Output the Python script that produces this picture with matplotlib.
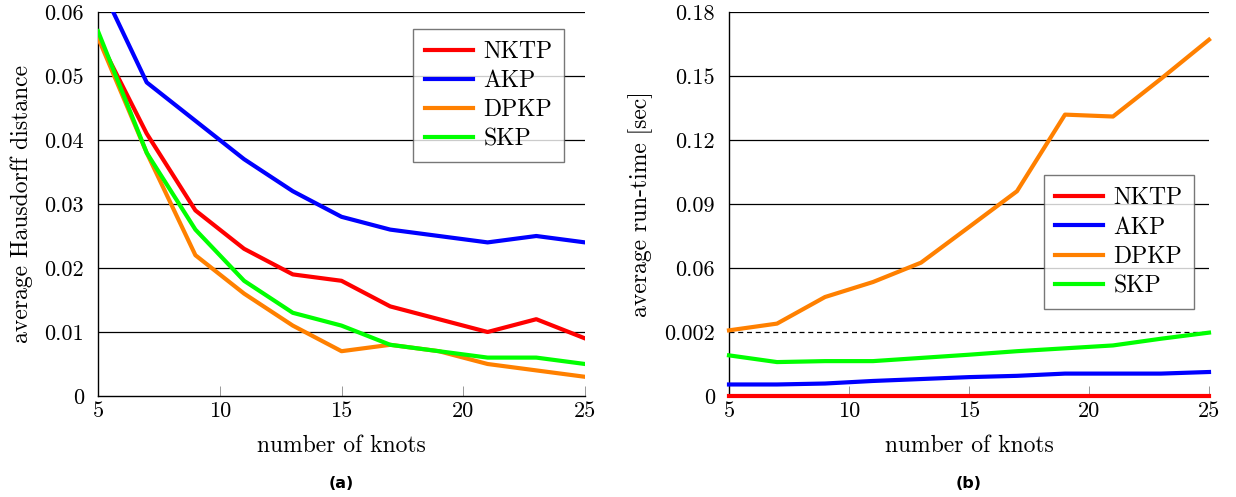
import numpy as np
import matplotlib
matplotlib.use("Agg")
import matplotlib.pyplot as plt

plt.rcParams['font.family'] = ['cmr10', 'DejaVu Serif']
plt.rcParams['mathtext.fontset'] = 'cm'
plt.rcParams['axes.unicode_minus'] = False

# 数据
knots = [5, 7, 9, 11, 13, 15, 17, 19, 21, 23, 25]
names = ["NKTP", "AKP", "DPKP", "SKP"]
colors = ["#ff0000", "#0000ff", "#ff8000", "#00ff00"]

# (a) 平均 Hausdorff 距离
hd_nktp = [0.056, 0.041, 0.029, 0.023, 0.019, 0.018, 0.014, 0.012, 0.010, 0.012, 0.009]
hd_akp = [0.065, 0.049, 0.043, 0.037, 0.032, 0.028, 0.026, 0.025, 0.024, 0.025, 0.024]
hd_dpkp = [0.056, 0.038, 0.022, 0.016, 0.011, 0.007, 0.008, 0.007, 0.005, 0.004, 0.003]
hd_skp = [0.057, 0.038, 0.026, 0.018, 0.013, 0.011, 0.008, 0.007, 0.006, 0.006, 0.005]

# (b) 平均运行时间 [sec]
rt_nktp = [0.00001] * 11
rt_akp = [0.00036, 0.00036, 0.00039, 0.00047, 0.00053, 0.00059, 0.00063, 0.00070, 0.00070, 0.00070, 0.00075]
rt_dpkp = [0.0035, 0.0096, 0.0337, 0.0473, 0.0625, 0.0792, 0.096, 0.1319, 0.131, 0.1487, 0.167]
rt_skp = [0.00127, 0.00106, 0.00109, 0.00109, 0.00119, 0.00129, 0.00140, 0.00149, 0.00158, 0.00179, 0.00198]

hd_ticks = [0, 0.01, 0.02, 0.03, 0.04, 0.05, 0.06]
hd_labels = ["0", "0.01", "0.02", "0.03", "0.04", "0.05", "0.06"]
rt_ticks = [0, 0.002, 0.06, 0.09, 0.12, 0.15, 0.18]
rt_labels = ["0", "0.002", "0.06", "0.09", "0.12", "0.15", "0.18"]

# 分段线性的 y 轴（断轴）
brk_v = [0, 0.002, 0.06, 0.18]
brk_u = [0, 1, 2, 6]


def fwd(v):
    return np.interp(v, brk_v, brk_u)


def inv(u):
    return np.interp(u, brk_u, brk_v)


W, H = 1236, 497
fig = plt.figure(figsize=(W / 100, H / 100), dpi=100)
ax1 = fig.add_axes([98 / W, 1 - 396 / H, (585 - 98) / W, (396 - 12) / H])
ax2 = fig.add_axes([729 / W, 1 - 396 / H, (1209 - 729) / W, (396 - 12) / H])

FS = 17


def style(ax, ticks, labels, dashed=None):
    for t in ticks[1:]:
        if t == dashed:
            ax.axhline(t, color="black", lw=0.9, ls="--", dashes=(4, 3), zorder=1)
        else:
            ax.axhline(t, color="black", lw=0.9, zorder=1)
    ax.set_xlim(5, 25)
    ax.set_xticks([5, 10, 15, 20, 25])
    ax.set_yticks(ticks)
    ax.set_yticklabels(labels)
    ax.spines["top"].set_visible(False)
    ax.spines["right"].set_visible(False)
    ax.spines["left"].set_linewidth(1.0)
    ax.spines["bottom"].set_linewidth(1.0)
    ax.tick_params(axis="x", direction="in", length=7, width=0.6, color="#888888", labelsize=16, pad=4)
    ax.tick_params(axis="y", length=0, labelsize=16, pad=10)
    ax.set_xlabel("number of knots", fontsize=FS, labelpad=10)


def add_legend(ax, loc, anchor):
    leg = ax.legend(loc=loc, bbox_to_anchor=anchor, fontsize=FS, frameon=True,
                    fancybox=False, edgecolor="#555555", handlelength=2.0, handletextpad=0.45,
                    labelspacing=0.3, borderpad=0.5, borderaxespad=0)
    leg.get_frame().set_linewidth(1.0)
    leg.set_zorder(5)


series1 = [hd_nktp, hd_akp, hd_dpkp, hd_skp]
for name, c, ys in zip(names, colors, series1):
    ax1.plot(knots, ys, color=c, lw=3.0, label=name, zorder=3)
ax1.set_ylim(0, 0.06)
style(ax1, hd_ticks, hd_labels)
ax1.set_ylabel("average Hausdorff distance", fontsize=FS, labelpad=8)
add_legend(ax1, "upper right", (0.957, 0.956))

series2 = [rt_nktp, rt_akp, rt_dpkp, rt_skp]
ax2.set_yscale("function", functions=(fwd, inv))
for name, c, ys in zip(names, colors, series2):
    ax2.plot(knots, ys, color=c, lw=3.0, label=name, zorder=3, clip_on=False)
ax2.set_ylim(0, 0.18)
style(ax2, rt_ticks, rt_labels, dashed=0.002)
ax2.set_ylabel("average run-time [sec]", fontsize=FS, labelpad=8)
add_legend(ax2, "lower right", (0.969, 0.227))

fig.text((98 + 585) / 2 / W, 1 - 483 / H, "(a)", ha="center", va="center",
         fontsize=11.5, fontweight="bold", family="DejaVu Sans")
fig.text((729 + 1209) / 2 / W, 1 - 483 / H, "(b)", ha="center", va="center",
         fontsize=11.5, fontweight="bold", family="DejaVu Sans")

fig.savefig("out.png", dpi=100)
